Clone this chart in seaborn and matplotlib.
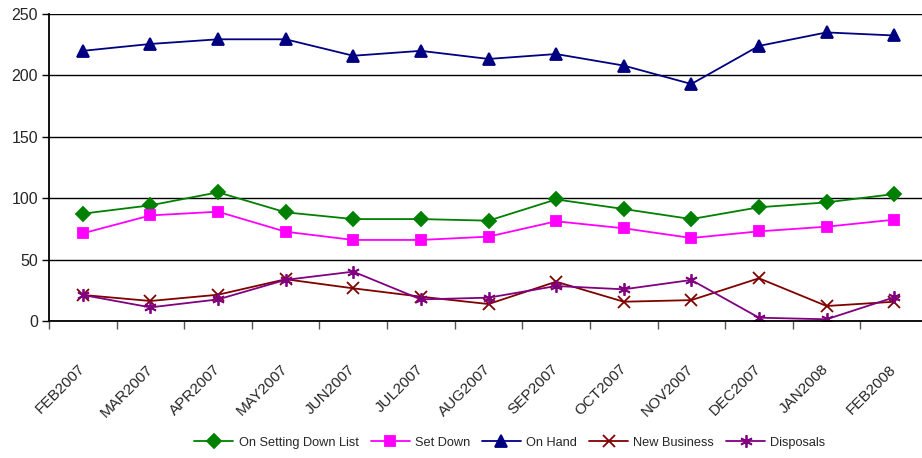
import matplotlib
matplotlib.use("Agg")
import matplotlib.pyplot as plt
from matplotlib.ticker import FixedLocator
import seaborn as sns

months = ["FEB2007", "MAR2007", "APR2007", "MAY2007", "JUN2007", "JUL2007", "AUG2007",
          "SEP2007", "OCT2007", "NOV2007", "DEC2007", "JAN2008", "FEB2008"]
on_setting_down = [87.4, 94.2, 104.8, 88.5, 83, 83, 81.7, 99, 91.2, 83, 92.6, 96.6, 103.4]
set_down = [71.4, 86, 89, 72.7, 66, 66, 68.7, 81.2, 75.5, 67.6, 73, 76.8, 82.5]
on_hand = [220, 225.6, 229.4, 229.4, 216, 220, 213.4, 217.4, 208, 193, 224, 235, 232.5]
new_business = [21.2, 16.3, 21.4, 34, 26.6, 19.8, 13.8, 32, 15.7, 17, 34.8, 12.2, 15.7]
disposals = [21.2, 11.1, 17.6, 33.5, 40.2, 17.6, 19, 28.5, 25.8, 33.4, 2.7, 1.4, 19.3]

series = [
    ("On Setting Down List", on_setting_down, "#008000", "D", 7),
    ("Set Down", set_down, "#FF00FF", "s", 7),
    ("On Hand", on_hand, "#000080", "^", 8),
    ("New Business", new_business, "#800000", "x", 8),
    ("Disposals", disposals, "#800080", (6, 2, 0), 9),
]

sns.set_style("white")
plt.rcParams["font.family"] = ["Liberation Sans", "DejaVu Sans"]

fig = plt.figure(figsize=(9.22, 4.58), dpi=100)
ax = fig.add_axes([49 / 922, 137 / 458, 879 / 922, 307 / 458])

for name, vals, color, marker, ms in series:
    sns.lineplot(x=months, y=vals, ax=ax, color=color, marker=marker, markersize=ms,
                 markeredgecolor=color, markerfacecolor=color, markeredgewidth=1.3,
                 linewidth=1.3, label=name, sort=False)

ax.set_xlim(-0.5, len(months) - 0.5)
ax.set_ylim(0, 250)
ax.set_yticks([0, 50, 100, 150, 200, 250])
ax.yaxis.grid(True, color="black", linewidth=1)
ax.set_axisbelow(True)
ax.set_xlabel("")
ax.set_ylabel("")

ax.set_xticks(range(len(months)))
ax.set_xticklabels(months, rotation=45, ha="right", va="center", rotation_mode="anchor",
                   fontsize=11)
ax.xaxis.set_minor_locator(FixedLocator([i - 0.5 for i in range(len(months) + 1)]))
ax.tick_params(axis="x", which="major", length=0, pad=33)
ax.tick_params(axis="x", which="minor", length=6, width=1, color="#555555", direction="out",
               bottom=True)
ax.tick_params(axis="y", length=5, width=1, color="black", direction="out", left=True,
               labelsize=11.5, pad=3)

for s in ["top", "right"]:
    ax.spines[s].set_visible(False)
for s in ["left", "bottom"]:
    ax.spines[s].set_color("black")
    ax.spines[s].set_linewidth(1.3)

ax.legend(loc="center", bbox_to_anchor=(0.553, 0.033), bbox_transform=fig.transFigure,
          ncol=5, frameon=False, fontsize=9.2, handlelength=3.05, handletextpad=0.4,
          columnspacing=0.95)

fig.savefig("out.png", dpi=100)
